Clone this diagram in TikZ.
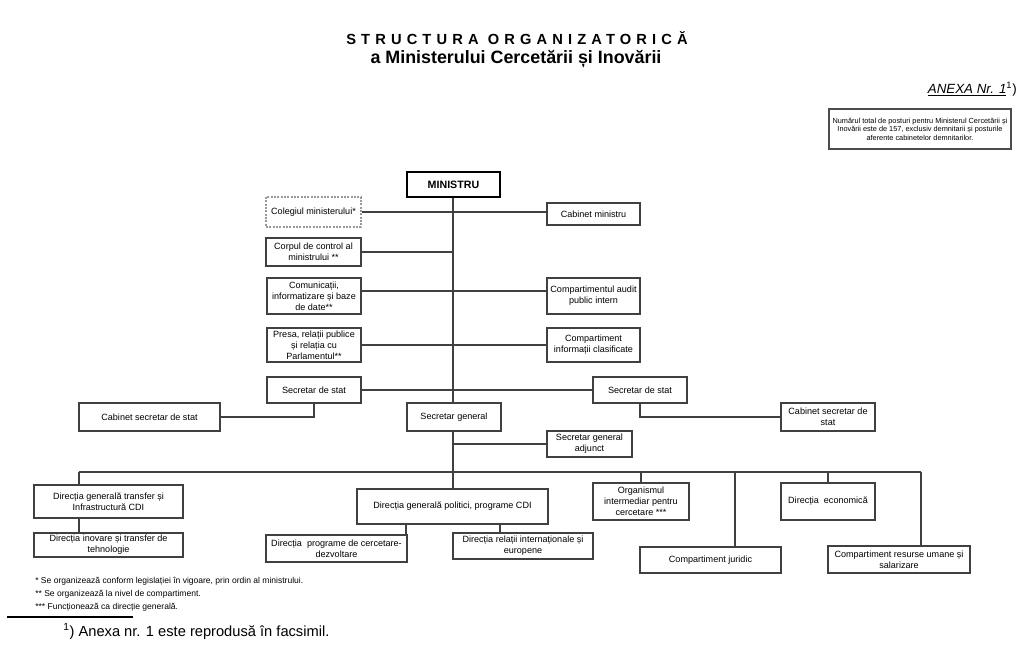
\documentclass[tikz,border=0pt]{standalone}
\usepackage{fontspec}
\setmainfont{Liberation Sans}
\usetikzlibrary{calc}
\newcommand\mybox[7][]{\node[obox,#1,minimum width={(#5-#3)*0.75pt},minimum height={(#6-#4)*0.75pt}] (#2) at ({(#3+#5)/2},{(#4+#6)/2}) {#7};}
\begin{document}
\begin{tikzpicture}[x=0.75pt,y=-0.75pt,
  obox/.style={draw=black!75,line width=0.9pt,align=center,inner sep=0pt,font=\fontsize{6.8}{8.2}\selectfont},
  thickbox/.style={draw=black,line width=1.5pt,font=\bfseries\fontsize{8}{9}\selectfont},
  dotbox/.style={draw=black!40,line width=1pt,dash pattern=on 1.5pt off 1pt},
  notebox/.style={draw=black!70,line width=1pt,font=\fontsize{5.5}{6.5}\selectfont},
  conn/.style={draw=black!75,line width=0.9pt},
  foot/.style={anchor=base west,inner sep=0pt,font=\fontsize{6.4}{7.5}\selectfont}]
\useasboundingbox (0,0) rectangle (1026,654);
% titles
\node[anchor=base,inner sep=0pt,font=\bfseries\fontsize{11}{13}\selectfont\addfontfeature{LetterSpace=35}] (t1) at (517,44) {STRUCTURA ORGANIZATORICĂ};
\node[anchor=base,inner sep=0pt,font=\bfseries\fontsize{13.4}{15}\selectfont] (t2) at (516,63) {a Ministerului Cercetării și Inovării};
\node[anchor=base east,inner sep=0pt,font=\fontsize{10}{12}\selectfont] (anexa) at (1017,93) {\underline{\textit{ANEXA Nr. 1}}\textsuperscript{1})};
\mybox[notebox]{note}{829}{109}{1011}{149}{Numărul total de posturi pentru Ministerul Cercetării și\\Inovării este de 157, exclusiv demnitarii și posturile\\aferente cabinetelor demnitarilor.}
% boxes
\mybox[thickbox]{ministru}{407}{172}{500}{197}{MINISTRU}
\mybox[dotbox]{colegiul}{266}{197}{361}{227}{Colegiul ministerului*}
\mybox{cabmin}{547}{203}{640}{225}{Cabinet ministru}
\mybox{corpul}{266}{238}{361}{266}{Corpul de control al\\ministrului **}
\mybox{comm}{267}{278}{361}{314}{Comunicații,\\informatizare și baze\\de date**}
\mybox{audit}{547}{278}{640}{314}{Compartimentul audit\\public intern}
\mybox{presa}{267}{328}{361}{362}{Presa, relații publice\\și relația cu\\Parlamentul**}
\mybox{clasif}{547}{328}{640}{362}{Compartiment\\informații clasificate}
\mybox{secL}{267}{377}{361}{403}{Secretar de stat}
\mybox{secR}{593}{377}{687}{403}{Secretar de stat}
\mybox{cabL}{79}{403}{220}{431}{Cabinet secretar de stat}
\mybox{cabR}{781}{403}{875}{431}{Cabinet secretar de\\stat}
\mybox{secgen}{407}{403}{501}{431}{Secretar general}
\mybox{sgadj}{547}{431}{632}{457}{Secretar general\\adjunct}
\mybox{dgtr}{34}{485}{183}{518}{Direcția generală transfer și\\Infrastructură CDI}
\mybox{dginov}{34}{533}{183}{557}{Direcția inovare și transfer de\\tehnologie}
\mybox{dgpol}{357}{489}{548}{524}{Direcția generală politici, programe CDI}
\mybox{prog}{266}{535}{407}{562}{Direcția \ programe de cercetare-\\dezvoltare}
\mybox{rel}{453}{533}{593}{559}{Direcția relații internaționale și\\europene}
\mybox{org}{593}{483}{689}{520}{Organismul\\intermediar pentru\\cercetare ***}
\mybox{eco}{781}{483}{875}{520}{Direcția \ economică}
\mybox{jur}{640}{547}{781}{573}{Compartiment juridic}
\mybox{ru}{828}{546}{970}{573}{Compartiment resurse umane și\\salarizare}
% coordinates
\coordinate (mx) at (453,0);
\coordinate (busL) at (79,472);
\coordinate (busR) at (921,472);
\coordinate (jx) at (735,472);
\coordinate (rx) at (500,0);
\coordinate (px) at (406,0);
% connectors
\draw[conn] (ministru.south -| mx) -- (secgen.north -| mx);
\draw[conn] (secgen.south -| mx) -- (dgpol.north -| mx);
\draw[conn] (colegiul.east) -- (colegiul.east -| cabmin.west);
\draw[conn] (corpul.east) -- (corpul.east -| mx);
\draw[conn] ([yshift=3.75pt]comm.east) -- ([yshift=3.75pt]comm.east -| audit.west);
\draw[conn] (presa.east) -- (presa.east -| clasif.west);
\draw[conn] (secL.east) -- (secR.west);
\draw[conn] (cabL.east) -| (secL.south);
\draw[conn] (secR.south) |- (cabR.west);
\draw[conn] (sgadj.west -| mx) -- (sgadj.west);
\draw[conn] (busL) -- (busR);
\draw[conn] (busL) -- (busL |- dgtr.north);
\draw[conn] (busL |- dgtr.south) -- (busL |- dginov.north);
\draw[conn] (org.north |- busL) -- (org.north);
\draw[conn] (jx) -- (jx |- jur.north);
\draw[conn] (eco.north |- busL) -- (eco.north);
\draw[conn] (busR) -- (busR |- ru.north);
\draw[conn] (px |- dgpol.south) -- (px |- prog.north);
\draw[conn] (rx |- dgpol.south) -- (rx |- rel.north);
% footnotes
\node[foot] (f1) at (35,583) {* Se organizează conform legislației în vigoare, prin ordin al ministrului.};
\node[foot] (f2) at (35,596) {** Se organizează la nivel de compartiment.};
\node[foot] (f3) at (35,609) {*** Funcționează ca direcție generală.};
\coordinate (r1) at (7,617);
\coordinate (r2) at (133,617);
\draw[line width=1.6pt] (r1) -- (r2);
\node[anchor=base west,inner sep=0pt,font=\fontsize{11}{13}\selectfont] (fn) at (63,636) {\textsuperscript{1}) Anexa nr. 1 este reprodusă în facsimil.};
\end{tikzpicture}
\end{document}
